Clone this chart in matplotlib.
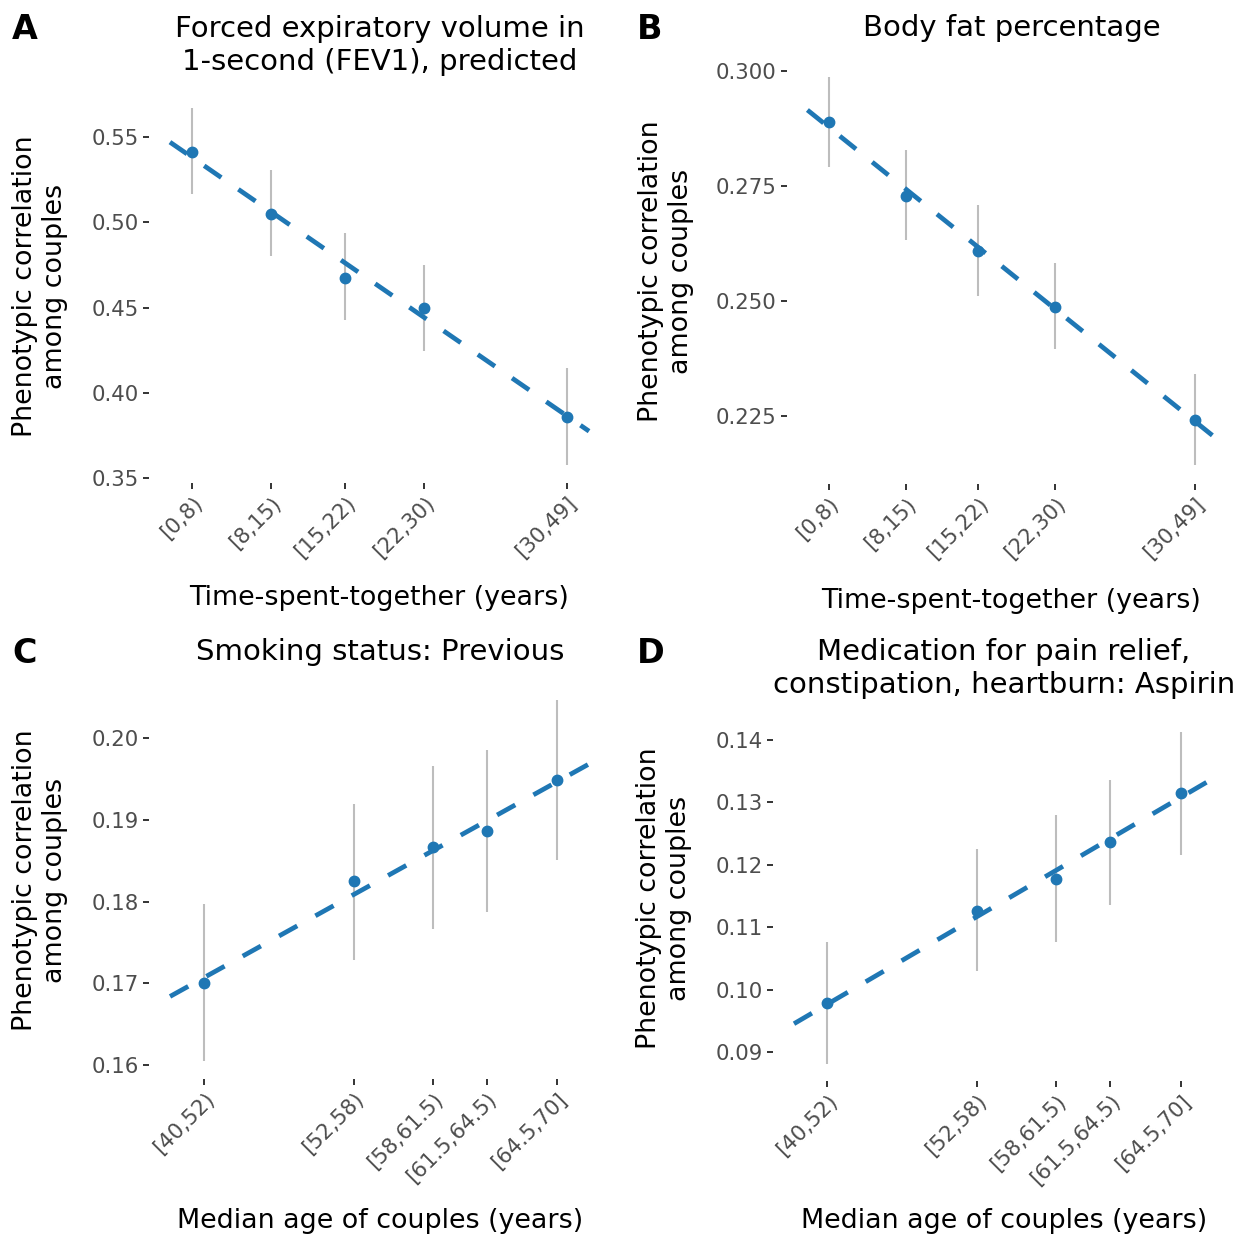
import numpy as np
import matplotlib
matplotlib.use("Agg")
import matplotlib.pyplot as plt

# bin labels and bin midpoints
time_mid = [4, 11.5, 18.5, 26, 39.5]
time_labels = ["[0,8)", "[8,15)", "[15,22)", "[22,30)", "[30,49]"]
age_mid = [46, 55, 59.75, 63, 67.25]
age_labels = ["[40,52)", "[52,58)", "[58,61.5)", "[61.5,64.5)", "[64.5,70]"]

# A: FEV1
fev1_r = [0.5415, 0.5048, 0.4671, 0.4496, 0.3859]
fev1_lo = [0.5163, 0.4800, 0.4428, 0.4245, 0.3576]
fev1_hi = [0.5671, 0.5304, 0.4938, 0.4751, 0.4147]
fev1_fit_x = [1.9, 41.6]
fev1_fit_y = [0.5470, 0.3775]

# B: body fat
fat_r = [0.2888, 0.2729, 0.2608, 0.2487, 0.2241]
fat_lo = [0.2792, 0.2633, 0.2510, 0.2395, 0.2144]
fat_hi = [0.2986, 0.2829, 0.2708, 0.2583, 0.2341]
fat_fit_x = [1.92, 41.54]
fat_fit_y = [0.2915, 0.2202]

# C: smoking
smoke_r = [0.1700, 0.1825, 0.1867, 0.1887, 0.1949]
smoke_lo = [0.1605, 0.1729, 0.1767, 0.1787, 0.1851]
smoke_hi = [0.1797, 0.1920, 0.1966, 0.1986, 0.2047]
smoke_fit_x = [43.94, 69.28]
smoke_fit_y = [0.1684, 0.1970]

# D: aspirin
aspirin_r = [0.0979, 0.1127, 0.1178, 0.1236, 0.1315]
aspirin_lo = [0.0881, 0.1030, 0.1076, 0.1136, 0.1216]
aspirin_hi = [0.1077, 0.1225, 0.1280, 0.1336, 0.1413]
aspirin_fit_x = [43.99, 69.26]
aspirin_fit_y = [0.0946, 0.1339]

titles = ["Forced expiratory volume in\n1-second (FEV1), predicted",
          "Body fat percentage",
          "Smoking status: Previous",
          "Medication for pain relief,\nconstipation, heartburn: Aspirin"]
xlabels = ["Time-spent-together (years)", "Time-spent-together (years)",
           "Median age of couples (years)", "Median age of couples (years)"]
ylabel = "Phenotypic correlation\namong couples"

W, H = 1240, 1236
fig = plt.figure(figsize=(W / 100, H / 100), dpi=100)
fig.patch.set_facecolor("white")

def box(x0, y0, x1, y1):
    return [x0 / W, 1 - y1 / H, (x1 - x0) / W, (y1 - y0) / H]

def expand(vals, f=0.05):
    lo, hi = min(vals), max(vals)
    d = (hi - lo) * f
    return lo - d, hi + d

BLUE = "#1f77b4"

def panel(rect, letter, lpos, x, r, lo, hi, fx, fy, labels, yticks, yfmt,
          title, xlabel, ylab_x, xlab_y, tpad):
    ax = fig.add_axes(rect)
    ax.vlines(x, lo, hi, color="#bdbdbd", lw=1.5, zorder=1)
    ax.plot(x, r, "o", color=BLUE, ms=7.5, zorder=2)
    ax.plot(fx, fy, color=BLUE, lw=3.4, dashes=(4.4, 4.4),
            dash_capstyle="butt", zorder=3)
    ax.set_xlim(*expand(fx))
    ax.set_ylim(*expand(list(lo) + list(hi) + list(fy)))
    ax.set_xticks(x)
    ax.set_xticklabels(labels, rotation=45, ha="right", va="top",
                       rotation_mode="anchor")
    ax.set_yticks(yticks)
    ax.set_yticklabels([yfmt.format(v) for v in yticks])
    for s in ax.spines.values():
        s.set_visible(False)
    ax.tick_params(length=4.3, width=1.4, color="#333333", labelsize=15.3,
                   labelcolor="#4d4d4d", pad=3)
    ax.set_title(title, fontsize=21, pad=tpad, linespacing=1.2)
    ax.set_xlabel(xlabel, fontsize=19.4)
    ax.xaxis.set_label_coords(0.5, xlab_y)
    ax.set_ylabel(ylabel, fontsize=19.4, linespacing=1.2)
    ax.yaxis.set_label_coords(ylab_x, 0.5)
    fig.text(lpos[0] / W, 1 - lpos[1] / H, letter, fontsize=24,
             fontweight="bold", ha="left", va="top")
    return ax

panel(box(149, 90, 610, 483), "A", (12, 13), time_mid, fev1_r, fev1_lo, fev1_hi,
      fev1_fit_x, fev1_fit_y, time_labels, [0.35, 0.40, 0.45, 0.50, 0.55],
      "{:.2f}", titles[0], xlabels[0], -0.175, -0.26, 14.5)
panel(box(787, 58, 1236, 484), "B", (637, 13), time_mid, fat_r, fat_lo, fat_hi,
      fat_fit_x, fat_fit_y, time_labels, [0.225, 0.250, 0.275, 0.300],
      "{:.3f}", titles[1], xlabels[1], -0.207, -0.245, 15.5)
panel(box(149, 682, 612, 1079), "C", (12, 637), age_mid, smoke_r, smoke_lo, smoke_hi,
      smoke_fit_x, smoke_fit_y, age_labels, [0.16, 0.17, 0.18, 0.19, 0.20],
      "{:.2f}", titles[2], xlabels[2], -0.175, -0.325, 16)
panel(box(773, 715, 1235, 1081), "D", (637, 637), age_mid, aspirin_r, aspirin_lo, aspirin_hi,
      aspirin_fit_x, aspirin_fit_y, age_labels, [0.09, 0.10, 0.11, 0.12, 0.13, 0.14],
      "{:.2f}", titles[3], xlabels[3], -0.175, -0.347, 16)

fig.savefig("out.png", dpi=100, facecolor="white")
